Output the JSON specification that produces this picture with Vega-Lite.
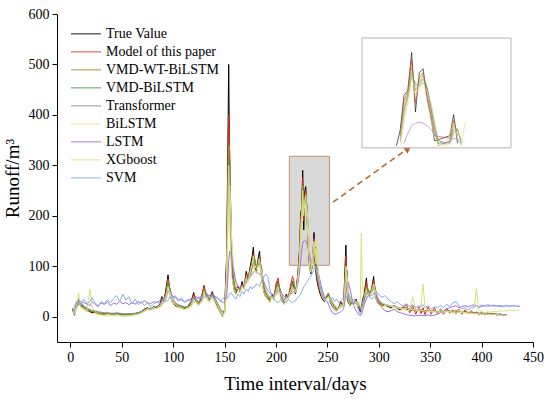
{
"$schema": "https://vega.github.io/schema/vega-lite/v6.json",
"width": 476, "height": 328,
"autosize": {"type": "none"},
"padding": {"left": 57, "top": 14, "right": 17, "bottom": 57},
"background": "white",
"config": {"view": {"stroke": null}, "font": "Liberation Serif"},
"datasets": {"runoff": [
{"d":2,"a":15,"b":14,"c":12,"e":13,"f":16,"g":10,"h":18,"i":12,"j":10},
{"d":4,"a":3,"b":5,"c":6,"e":4,"f":8,"g":5,"h":12,"i":8,"j":20},
{"d":6,"a":28,"b":25,"c":22,"e":20,"f":18,"g":15,"h":25,"i":20,"j":30},
{"d":8,"a":35,"b":32,"c":30,"e":28,"f":25,"g":22,"h":35,"i":48,"j":28},
{"d":10,"a":22,"b":24,"c":26,"e":25,"f":28,"g":20,"h":30,"i":18,"j":22},
{"d":13,"a":18,"b":16,"c":18,"e":20,"f":22,"g":16,"h":28,"i":14,"j":35},
{"d":16,"a":12,"b":14,"c":15,"e":16,"f":18,"g":12,"h":25,"i":10,"j":26},
{"d":19,"a":10,"b":12,"c":12,"e":12,"f":14,"g":8,"h":22,"i":55,"j":30},
{"d":21,"a":8,"b":10,"c":10,"e":11,"f":13,"g":6,"h":30,"i":20,"j":38},
{"d":24,"a":10,"b":9,"c":11,"e":10,"f":12,"g":6,"h":25,"i":10,"j":28},
{"d":27,"a":5,"b":7,"c":8,"e":8,"f":10,"g":4,"h":20,"i":6,"j":22},
{"d":30,"a":6,"b":5,"c":6,"e":7,"f":9,"g":3,"h":28,"i":4,"j":30},
{"d":33,"a":4,"b":6,"c":5,"e":6,"f":8,"g":2,"h":24,"i":3,"j":26},
{"d":36,"a":7,"b":6,"c":6,"e":5,"f":8,"g":3,"h":30,"i":5,"j":34},
{"d":39,"a":5,"b":7,"c":6,"e":6,"f":7,"g":2,"h":22,"i":4,"j":28},
{"d":42,"a":4,"b":5,"c":5,"e":6,"f":7,"g":2,"h":27,"i":3,"j":36},
{"d":45,"a":6,"b":5,"c":6,"e":5,"f":8,"g":3,"h":25,"i":4,"j":42},
{"d":48,"a":5,"b":6,"c":5,"e":6,"f":7,"g":2,"h":30,"i":3,"j":30},
{"d":51,"a":3,"b":5,"c":5,"e":4,"f":6,"g":1,"h":26,"i":2,"j":45},
{"d":54,"a":4,"b":4,"c":4,"e":5,"f":6,"g":1,"h":28,"i":2,"j":33},
{"d":57,"a":4,"b":5,"c":5,"e":5,"f":6,"g":1,"h":24,"i":2,"j":40},
{"d":60,"a":5,"b":4,"c":5,"e":5,"f":6,"g":2,"h":28,"i":3,"j":26},
{"d":63,"a":6,"b":6,"c":6,"e":6,"f":7,"g":3,"h":25,"i":4,"j":35},
{"d":66,"a":8,"b":7,"c":7,"e":8,"f":8,"g":4,"h":30,"i":5,"j":24},
{"d":69,"a":10,"b":9,"c":9,"e":9,"f":10,"g":6,"h":27,"i":8,"j":30},
{"d":72,"a":15,"b":13,"c":12,"e":12,"f":13,"g":10,"h":32,"i":12,"j":22},
{"d":75,"a":18,"b":17,"c":16,"e":15,"f":16,"g":14,"h":28,"i":16,"j":28},
{"d":78,"a":14,"b":16,"c":15,"e":16,"f":17,"g":13,"h":26,"i":14,"j":20},
{"d":81,"a":20,"b":18,"c":18,"e":17,"f":18,"g":15,"h":30,"i":18,"j":25},
{"d":84,"a":18,"b":20,"c":19,"e":19,"f":20,"g":16,"h":28,"i":16,"j":30},
{"d":87,"a":25,"b":22,"c":21,"e":20,"f":22,"g":18,"h":32,"i":22,"j":26},
{"d":89,"a":40,"b":35,"c":30,"e":28,"f":26,"g":22,"h":35,"i":30,"j":28},
{"d":91,"a":30,"b":32,"c":34,"e":32,"f":30,"g":26,"h":38,"i":28,"j":35},
{"d":93,"a":55,"b":50,"c":45,"e":40,"f":35,"g":30,"h":40,"i":40,"j":30},
{"d":95,"a":83,"b":75,"c":70,"e":65,"f":60,"g":50,"h":50,"i":60,"j":32},
{"d":97,"a":45,"b":50,"c":55,"e":55,"f":52,"g":48,"h":50,"i":45,"j":40},
{"d":99,"a":30,"b":32,"c":35,"e":36,"f":38,"g":35,"h":42,"i":30,"j":35},
{"d":102,"a":22,"b":24,"c":26,"e":27,"f":28,"g":25,"h":38,"i":20,"j":42},
{"d":105,"a":20,"b":22,"c":22,"e":23,"f":24,"g":20,"h":35,"i":18,"j":30},
{"d":108,"a":18,"b":20,"c":20,"e":20,"f":22,"g":18,"h":33,"i":16,"j":38},
{"d":111,"a":16,"b":18,"c":18,"e":18,"f":20,"g":15,"h":30,"i":14,"j":28},
{"d":114,"a":20,"b":19,"c":18,"e":18,"f":20,"g":15,"h":32,"i":18,"j":34},
{"d":117,"a":28,"b":25,"c":22,"e":22,"f":22,"g":18,"h":35,"i":22,"j":30},
{"d":120,"a":48,"b":45,"c":40,"e":36,"f":32,"g":28,"h":38,"i":35,"j":36},
{"d":122,"a":30,"b":34,"c":36,"e":35,"f":34,"g":30,"h":40,"i":28,"j":32},
{"d":125,"a":25,"b":27,"c":28,"e":28,"f":28,"g":25,"h":36,"i":22,"j":40},
{"d":128,"a":40,"b":45,"c":38,"e":35,"f":32,"g":28,"h":38,"i":30,"j":35},
{"d":130,"a":62,"b":60,"c":55,"e":50,"f":45,"g":40,"h":45,"i":50,"j":38},
{"d":132,"a":40,"b":45,"c":48,"e":46,"f":44,"g":40,"h":45,"i":35,"j":42},
{"d":135,"a":32,"b":35,"c":36,"e":36,"f":36,"g":32,"h":42,"i":28,"j":36},
{"d":138,"a":50,"b":48,"c":44,"e":42,"f":40,"g":36,"h":44,"i":40,"j":40},
{"d":140,"a":35,"b":38,"c":40,"e":40,"f":38,"g":35,"h":42,"i":30,"j":34},
{"d":143,"a":20,"b":22,"c":25,"e":26,"f":28,"g":24,"h":38,"i":18,"j":38},
{"d":146,"a":8,"b":10,"c":12,"e":14,"f":16,"g":12,"h":32,"i":8,"j":30},
{"d":148,"a":1,"b":3,"c":5,"e":6,"f":10,"g":4,"h":28,"i":2,"j":35},
{"d":150,"a":15,"b":10,"c":8,"e":8,"f":10,"g":6,"h":30,"i":10,"j":40},
{"d":152,"a":120,"b":100,"c":80,"e":70,"f":60,"g":50,"h":40,"i":90,"j":35},
{"d":153,"a":300,"b":260,"c":230,"e":200,"f":180,"g":150,"h":70,"i":200,"j":38},
{"d":154,"a":500,"b":400,"c":340,"e":300,"f":260,"g":220,"h":110,"i":300,"j":42},
{"d":155,"a":280,"b":320,"c":330,"e":310,"f":290,"g":260,"h":130,"i":200,"j":45},
{"d":156,"a":150,"b":180,"c":200,"e":210,"f":220,"g":210,"h":125,"i":120,"j":48},
{"d":157,"a":90,"b":100,"c":120,"e":130,"f":140,"g":150,"h":110,"i":80,"j":45},
{"d":159,"a":55,"b":60,"c":70,"e":75,"f":85,"g":90,"h":90,"i":55,"j":40},
{"d":161,"a":45,"b":48,"c":50,"e":52,"f":58,"g":60,"h":70,"i":45,"j":35},
{"d":163,"a":60,"b":58,"c":55,"e":54,"f":55,"g":55,"h":60,"i":50,"j":45},
{"d":165,"a":50,"b":55,"c":55,"e":55,"f":55,"g":52,"h":58,"i":48,"j":40},
{"d":167,"a":70,"b":65,"c":62,"e":60,"f":58,"g":55,"h":60,"i":60,"j":50},
{"d":169,"a":55,"b":60,"c":62,"e":62,"f":62,"g":58,"h":65,"i":55,"j":45},
{"d":171,"a":90,"b":85,"c":78,"e":72,"f":68,"g":62,"h":68,"i":75,"j":55},
{"d":173,"a":75,"b":80,"c":80,"e":78,"f":75,"g":70,"h":75,"i":70,"j":50},
{"d":175,"a":100,"b":95,"c":90,"e":85,"f":82,"g":78,"h":80,"i":90,"j":60},
{"d":177,"a":122,"b":110,"c":105,"e":100,"f":95,"g":90,"h":85,"i":105,"j":55},
{"d":178,"a":138,"b":125,"c":118,"e":110,"f":105,"g":98,"h":88,"i":120,"j":60},
{"d":179,"a":100,"b":115,"c":118,"e":115,"f":110,"g":102,"h":90,"i":95,"j":58},
{"d":181,"a":90,"b":95,"c":100,"e":100,"f":100,"g":95,"h":88,"i":85,"j":65},
{"d":183,"a":120,"b":110,"c":105,"e":102,"f":100,"g":95,"h":86,"i":110,"j":62},
{"d":184,"a":130,"b":119,"c":112,"e":108,"f":104,"g":98,"h":85,"i":115,"j":60},
{"d":186,"a":80,"b":90,"c":95,"e":96,"f":95,"g":92,"h":80,"i":75,"j":70},
{"d":188,"a":50,"b":55,"c":62,"e":65,"f":70,"g":72,"h":70,"i":50,"j":78},
{"d":190,"a":40,"b":42,"c":45,"e":48,"f":52,"g":55,"h":60,"i":40,"j":85},
{"d":192,"a":35,"b":38,"c":40,"e":42,"f":45,"g":46,"h":52,"i":35,"j":80},
{"d":194,"a":30,"b":32,"c":34,"e":35,"f":38,"g":40,"h":48,"i":28,"j":55},
{"d":196,"a":45,"b":42,"c":40,"e":38,"f":38,"g":36,"h":45,"i":40,"j":40},
{"d":198,"a":35,"b":38,"c":40,"e":40,"f":40,"g":38,"h":44,"i":32,"j":35},
{"d":200,"a":60,"b":65,"c":55,"e":50,"f":46,"g":42,"h":46,"i":50,"j":30},
{"d":202,"a":70,"b":77,"c":68,"e":62,"f":56,"g":50,"h":50,"i":60,"j":28},
{"d":204,"a":45,"b":50,"c":55,"e":55,"f":54,"g":50,"h":50,"i":42,"j":32},
{"d":206,"a":30,"b":34,"c":38,"e":40,"f":42,"g":40,"h":45,"i":30,"j":40},
{"d":208,"a":25,"b":28,"c":30,"e":32,"f":34,"g":32,"h":40,"i":25,"j":30},
{"d":210,"a":45,"b":42,"c":38,"e":36,"f":36,"g":34,"h":40,"i":38,"j":28},
{"d":212,"a":35,"b":40,"c":42,"e":40,"f":40,"g":38,"h":42,"i":35,"j":35},
{"d":214,"a":55,"b":60,"c":52,"e":48,"f":45,"g":42,"h":44,"i":50,"j":30},
{"d":216,"a":70,"b":80,"c":68,"e":62,"f":56,"g":50,"h":48,"i":60,"j":28},
{"d":217,"a":60,"b":75,"c":70,"e":65,"f":60,"g":55,"h":50,"i":55,"j":30},
{"d":219,"a":45,"b":50,"c":55,"e":55,"f":55,"g":52,"h":52,"i":48,"j":32},
{"d":220,"a":60,"b":58,"c":58,"e":58,"f":58,"g":55,"h":55,"i":55,"j":35},
{"d":221,"a":80,"b":78,"c":72,"e":70,"f":66,"g":62,"h":62,"i":70,"j":38},
{"d":222,"a":105,"b":100,"c":95,"e":90,"f":85,"g":80,"h":75,"i":90,"j":40},
{"d":223,"a":136,"b":130,"c":125,"e":120,"f":112,"g":105,"h":90,"i":115,"j":42},
{"d":224,"a":205,"b":195,"c":185,"e":175,"f":165,"g":150,"h":110,"i":170,"j":45},
{"d":225,"a":215,"b":212,"c":208,"e":205,"f":200,"g":190,"h":130,"i":200,"j":50},
{"d":226,"a":290,"b":275,"c":260,"e":250,"f":240,"g":225,"h":145,"i":250,"j":55},
{"d":227,"a":172,"b":190,"c":215,"e":225,"f":230,"g":228,"h":150,"i":200,"j":60},
{"d":228,"a":250,"b":240,"c":230,"e":225,"f":222,"g":215,"h":152,"i":230,"j":62},
{"d":229,"a":258,"b":250,"c":245,"e":238,"f":230,"g":222,"h":150,"i":240,"j":65},
{"d":230,"a":200,"b":210,"c":220,"e":222,"f":220,"g":215,"h":145,"i":195,"j":68},
{"d":231,"a":163,"b":170,"c":180,"e":185,"f":190,"g":190,"h":138,"i":160,"j":72},
{"d":232,"a":115,"b":125,"c":135,"e":140,"f":148,"g":155,"h":128,"i":120,"j":75},
{"d":233,"a":95,"b":100,"c":105,"e":110,"f":115,"g":122,"h":118,"i":95,"j":78},
{"d":234,"a":85,"b":90,"c":92,"e":95,"f":100,"g":105,"h":110,"i":88,"j":80},
{"d":235,"a":100,"b":98,"c":95,"e":95,"f":98,"g":100,"h":110,"i":105,"j":85},
{"d":236,"a":125,"b":120,"c":115,"e":112,"f":110,"g":108,"h":115,"i":130,"j":90},
{"d":237,"a":167,"b":155,"c":145,"e":138,"f":132,"g":125,"h":120,"i":150,"j":95},
{"d":238,"a":110,"b":125,"c":135,"e":138,"f":138,"g":135,"h":118,"i":120,"j":100},
{"d":239,"a":85,"b":90,"c":100,"e":108,"f":115,"g":120,"h":110,"i":105,"j":95},
{"d":240,"a":70,"b":78,"c":85,"e":92,"f":100,"g":110,"h":100,"i":152,"j":85},
{"d":241,"a":60,"b":65,"c":72,"e":78,"f":85,"g":90,"h":90,"i":90,"j":75},
{"d":243,"a":45,"b":50,"c":55,"e":58,"f":62,"g":66,"h":70,"i":55,"j":60},
{"d":245,"a":35,"b":38,"c":42,"e":45,"f":48,"g":50,"h":52,"i":40,"j":45},
{"d":247,"a":30,"b":32,"c":35,"e":36,"f":38,"g":40,"h":40,"i":32,"j":35},
{"d":249,"a":40,"b":38,"c":36,"e":36,"f":36,"g":36,"h":32,"i":35,"j":30},
{"d":251,"a":45,"b":47,"c":45,"e":42,"f":40,"g":38,"h":25,"i":40,"j":28},
{"d":253,"a":28,"b":32,"c":36,"e":38,"f":38,"g":36,"h":15,"i":30,"j":32},
{"d":255,"a":20,"b":22,"c":25,"e":27,"f":29,"g":30,"h":8,"i":22,"j":38},
{"d":257,"a":15,"b":18,"c":20,"e":21,"f":22,"g":24,"h":5,"i":16,"j":30},
{"d":259,"a":12,"b":14,"c":15,"e":16,"f":18,"g":18,"h":6,"i":12,"j":35},
{"d":261,"a":18,"b":16,"c":16,"e":16,"f":17,"g":16,"h":8,"i":15,"j":28},
{"d":263,"a":30,"b":28,"c":24,"e":22,"f":20,"g":18,"h":10,"i":25,"j":32},
{"d":265,"a":20,"b":25,"c":26,"e":25,"f":24,"g":22,"h":14,"i":20,"j":36},
{"d":266,"a":35,"b":30,"c":28,"e":27,"f":26,"g":24,"h":18,"i":30,"j":34},
{"d":267,"a":90,"b":75,"c":60,"e":52,"f":45,"g":38,"h":30,"i":60,"j":32},
{"d":268,"a":142,"b":120,"c":100,"e":88,"f":75,"g":60,"h":45,"i":100,"j":35},
{"d":269,"a":60,"b":80,"c":90,"e":92,"f":90,"g":80,"h":65,"i":70,"j":40},
{"d":270,"a":30,"b":40,"c":48,"e":52,"f":56,"g":58,"h":70,"i":35,"j":45},
{"d":272,"a":22,"b":25,"c":28,"e":30,"f":33,"g":35,"h":55,"i":22,"j":40},
{"d":274,"a":30,"b":28,"c":27,"e":27,"f":28,"g":28,"h":35,"i":25,"j":30},
{"d":276,"a":25,"b":27,"c":28,"e":28,"f":28,"g":27,"h":20,"i":22,"j":35},
{"d":278,"a":35,"b":33,"c":30,"e":29,"f":28,"g":27,"h":12,"i":30,"j":28},
{"d":280,"a":20,"b":24,"c":26,"e":27,"f":28,"g":28,"h":5,"i":20,"j":15},
{"d":282,"a":10,"b":12,"c":15,"e":17,"f":20,"g":22,"h":2,"i":30,"j":5},
{"d":283,"a":15,"b":14,"c":14,"e":15,"f":16,"g":18,"h":4,"i":166,"j":10},
{"d":284,"a":30,"b":26,"c":22,"e":20,"f":18,"g":17,"h":10,"i":60,"j":25},
{"d":286,"a":50,"b":45,"c":38,"e":34,"f":30,"g":28,"h":25,"i":40,"j":40},
{"d":288,"a":77,"b":70,"c":60,"e":52,"f":46,"g":40,"h":35,"i":55,"j":45},
{"d":289,"a":45,"b":55,"c":58,"e":55,"f":50,"g":45,"h":40,"i":45,"j":48},
{"d":291,"a":40,"b":45,"c":48,"e":48,"f":48,"g":45,"h":42,"i":38,"j":40},
{"d":293,"a":55,"b":55,"c":52,"e":50,"f":48,"g":46,"h":42,"i":50,"j":35},
{"d":295,"a":80,"b":72,"c":65,"e":60,"f":56,"g":52,"h":45,"i":65,"j":38},
{"d":296,"a":50,"b":60,"c":62,"e":60,"f":58,"g":54,"h":48,"i":50,"j":42},
{"d":298,"a":30,"b":35,"c":40,"e":42,"f":44,"g":44,"h":42,"i":30,"j":48},
{"d":300,"a":25,"b":28,"c":30,"e":32,"f":34,"g":35,"h":30,"i":24,"j":45},
{"d":303,"a":20,"b":22,"c":24,"e":25,"f":27,"g":28,"h":18,"i":20,"j":38},
{"d":306,"a":25,"b":24,"c":24,"e":24,"f":25,"g":25,"h":12,"i":22,"j":42},
{"d":309,"a":20,"b":22,"c":22,"e":22,"f":23,"g":23,"h":10,"i":18,"j":35},
{"d":312,"a":18,"b":20,"c":20,"e":20,"f":21,"g":20,"h":12,"i":16,"j":30},
{"d":315,"a":22,"b":21,"c":20,"e":20,"f":21,"g":20,"h":15,"i":20,"j":26},
{"d":318,"a":16,"b":18,"c":18,"e":18,"f":19,"g":18,"h":10,"i":14,"j":30},
{"d":321,"a":14,"b":16,"c":16,"e":16,"f":17,"g":16,"h":8,"i":12,"j":24},
{"d":324,"a":18,"b":20,"c":17,"e":17,"f":17,"g":16,"h":6,"i":15,"j":22},
{"d":327,"a":15,"b":24,"c":18,"e":17,"f":17,"g":16,"h":4,"i":13,"j":26},
{"d":330,"a":12,"b":8,"c":14,"e":15,"f":16,"g":15,"h":3,"i":12,"j":20},
{"d":333,"a":14,"b":22,"c":15,"e":15,"f":15,"g":14,"h":2,"i":40,"j":24},
{"d":336,"a":12,"b":5,"c":13,"e":14,"f":14,"g":13,"h":2,"i":14,"j":18},
{"d":339,"a":13,"b":20,"c":14,"e":14,"f":14,"g":13,"h":3,"i":15,"j":22},
{"d":341,"a":11,"b":6,"c":12,"e":13,"f":13,"g":12,"h":2,"i":20,"j":20},
{"d":343,"a":12,"b":18,"c":13,"e":13,"f":13,"g":12,"h":3,"i":65,"j":24},
{"d":345,"a":10,"b":4,"c":11,"e":12,"f":12,"g":11,"h":2,"i":20,"j":18},
{"d":348,"a":12,"b":20,"c":12,"e":12,"f":12,"g":11,"h":4,"i":12,"j":22},
{"d":351,"a":10,"b":5,"c":11,"e":11,"f":11,"g":10,"h":2,"i":10,"j":16},
{"d":354,"a":11,"b":18,"c":11,"e":11,"f":11,"g":10,"h":3,"i":11,"j":20},
{"d":357,"a":9,"b":6,"c":10,"e":10,"f":10,"g":9,"h":5,"i":9,"j":18},
{"d":360,"a":12,"b":16,"c":11,"e":11,"f":11,"g":10,"h":8,"i":14,"j":22},
{"d":363,"a":10,"b":5,"c":10,"e":10,"f":10,"g":9,"h":12,"i":10,"j":18},
{"d":366,"a":13,"b":17,"c":11,"e":11,"f":11,"g":10,"h":15,"i":12,"j":25},
{"d":369,"a":11,"b":7,"c":11,"e":11,"f":11,"g":10,"h":18,"i":10,"j":20},
{"d":372,"a":9,"b":14,"c":10,"e":10,"f":10,"g":9,"h":20,"i":8,"j":28},
{"d":375,"a":12,"b":6,"c":10,"e":10,"f":10,"g":9,"h":22,"i":14,"j":30},
{"d":378,"a":10,"b":15,"c":10,"e":10,"f":10,"g":9,"h":18,"i":12,"j":22},
{"d":381,"a":8,"b":5,"c":9,"e":9,"f":9,"g":8,"h":20,"i":10,"j":15},
{"d":384,"a":10,"b":14,"c":9,"e":9,"f":9,"g":8,"h":22,"i":8,"j":18},
{"d":387,"a":8,"b":6,"c":8,"e":8,"f":8,"g":7,"h":20,"i":10,"j":14},
{"d":390,"a":9,"b":12,"c":8,"e":8,"f":8,"g":7,"h":22,"i":12,"j":18},
{"d":393,"a":7,"b":5,"c":7,"e":7,"f":7,"g":6,"h":24,"i":20,"j":20},
{"d":395,"a":8,"b":10,"c":7,"e":7,"f":7,"g":6,"h":22,"i":57,"j":22},
{"d":397,"a":6,"b":4,"c":7,"e":7,"f":7,"g":6,"h":20,"i":15,"j":18},
{"d":400,"a":7,"b":9,"c":6,"e":6,"f":7,"g":5,"h":23,"i":10,"j":20},
{"d":403,"a":6,"b":4,"c":6,"e":6,"f":6,"g":5,"h":21,"i":8,"j":22},
{"d":406,"a":5,"b":8,"c":6,"e":6,"f":6,"g":5,"h":24,"i":10,"j":20},
{"d":409,"a":6,"b":4,"c":5,"e":5,"f":6,"g":4,"h":22,"i":9,"j":22},
{"d":412,"a":5,"b":7,"c":5,"e":5,"f":5,"g":4,"h":23,"i":11,"j":21},
{"d":415,"a":4,"b":3,"c":5,"e":5,"f":5,"g":4,"h":21,"i":10,"j":22},
{"d":418,"a":5,"b":6,"c":4,"e":4,"f":5,"g":3,"h":22,"i":12,"j":20},
{"d":421,"a":3,"b":2,"c":4,"e":4,"f":4,"g":3,"h":21,"i":11,"j":21},
{"d":424,"a":4,"b":4,"c":4,"e":4,"f":4,"g":3,"h":22,"i":12,"j":22},
{"d":427,"h":21,"i":13,"j":21},
{"d":430,"h":22,"i":12,"j":22},
{"d":433,"h":21,"i":13,"j":21},
{"d":437,"h":21,"i":13,"j":21}
]},
"layer": [
{"layer": [
 {"data": {"values": [{}]},
  "mark": {"type": "rect", "fill": "#d9d9d9", "stroke": "#c8906a", "strokeWidth": 1},
  "encoding": {
   "x": {"datum": 213, "type": "quantitative", "scale": {"domain": [-13, 450], "nice": false, "zero": false},
    "axis": {"values": [0,25,50,75,100,125,150,175,200,225,250,275,300,325,350,375,400,425,450], "labelExpr": "datum.value % 50 === 0 ? datum.label : ''", "tickSize": {"condition": {"test": "datum.value % 50 === 0", "value": 5}, "value": 3}, "grid": false, "title": "Time interval/days", "titleFont": "Liberation Serif", "titleFontSize": 19, "titleFontWeight": "normal", "titleColor": "black", "titlePadding": 10, "labelFont": "Liberation Serif", "labelFontSize": 14, "labelColor": "black", "labelPadding": 3, "tickColor": "black", "domainColor": "black", "labelFlush": false, "labelOverlap": false}},
   "x2": {"datum": 252},
   "y": {"datum": 102, "type": "quantitative", "scale": {"domain": [-50, 600], "nice": false, "zero": false},
    "axis": {"values": [0,50,100,150,200,250,300,350,400,450,500,550,600], "labelExpr": "datum.value % 100 === 0 ? datum.label : ''", "tickSize": {"condition": {"test": "datum.value % 100 === 0", "value": 5}, "value": 3}, "grid": false, "title": "Runoff/m³", "titleFont": "Liberation Serif", "titleFontSize": 19, "titleFontWeight": "normal", "titleColor": "black", "titlePadding": 6, "labelFont": "Liberation Serif", "labelFontSize": 14, "labelColor": "black", "labelPadding": 3, "tickColor": "black", "domainColor": "black", "labelFlush": false, "labelOverlap": false}},
   "y2": {"datum": 318}
  }},
 {"data": {"name": "runoff"},
  "transform": [{"fold": ["a","b","c","e","f","g","h","i","j"], "as": ["k","v"]}],
  "mark": {"type": "line", "strokeWidth": 1},
  "encoding": {
   "x": {"field": "d", "type": "quantitative", "scale": {"domain": [-13, 450], "nice": false, "zero": false},
    "axis": {"values": [0,25,50,75,100,125,150,175,200,225,250,275,300,325,350,375,400,425,450], "labelExpr": "datum.value % 50 === 0 ? datum.label : ''", "tickSize": {"condition": {"test": "datum.value % 50 === 0", "value": 5}, "value": 3}, "grid": false, "title": "Time interval/days", "titleFont": "Liberation Serif", "titleFontSize": 19, "titleFontWeight": "normal", "titleColor": "black", "titlePadding": 10, "labelFont": "Liberation Serif", "labelFontSize": 14, "labelColor": "black", "labelPadding": 3, "tickColor": "black", "domainColor": "black", "labelFlush": false, "labelOverlap": false}},
   "y": {"field": "v", "type": "quantitative", "scale": {"domain": [-50, 600], "nice": false, "zero": false},
    "axis": {"values": [0,50,100,150,200,250,300,350,400,450,500,550,600], "labelExpr": "datum.value % 100 === 0 ? datum.label : ''", "tickSize": {"condition": {"test": "datum.value % 100 === 0", "value": 5}, "value": 3}, "grid": false, "title": "Runoff/m³", "titleFont": "Liberation Serif", "titleFontSize": 19, "titleFontWeight": "normal", "titleColor": "black", "titlePadding": 6, "labelFont": "Liberation Serif", "labelFontSize": 14, "labelColor": "black", "labelPadding": 3, "tickColor": "black", "domainColor": "black", "labelFlush": false, "labelOverlap": false}},
   "color": {"field": "k", "type": "nominal",
    "scale": {"domain": ["a","b","c","e","f","g","h","i","j"], "range": ["#000000","#e0301e","#a88a30","#3c9a3c","#8c8c8c","#f0dc96","#a070e0","#d8e07a","#86aee6"]},
    "legend": {"title": null, "orient": "none", "legendX": 13, "legendY": 11, "symbolType": "stroke", "symbolSize": 900, "symbolStrokeWidth": 1.5, "labelFont": "Liberation Serif", "labelFontSize": 14, "labelColor": "black", "clipHeight": 17.6, "rowPadding": 0, "labelExpr": "{'a':'True Value','b':'Model of this paper','c':'VMD-WT-BiLSTM','e':'VMD-BiLSTM','f':'Transformer','g':'BiLSTM','h':'LSTM','i':'XGboost','j':'SVM'}[datum.label]"}}
  }},
 {"data": {"values": [{}]},
  "mark": {"type": "rule", "stroke": "#b8662c", "strokeWidth": 1.5, "strokeDash": [6, 4]},
  "encoding": {"x": {"datum": 255.5, "type": "quantitative"}, "y": {"datum": 227, "type": "quantitative"}, "x2": {"datum": 324.5}, "y2": {"datum": 328}}},
 {"data": {"values": [{}]},
  "mark": {"type": "point", "shape": "triangle-up", "filled": true, "fill": "#b8662c", "stroke": null, "size": 70, "angle": 54, "opacity": 1},
  "encoding": {"x": {"datum": 328.5, "type": "quantitative"}, "y": {"datum": 334, "type": "quantitative"}}}
]},
{"layer": [
 {"data": {"values": [{}]},
  "mark": {"type": "rect", "fill": "white", "stroke": "#b4b4b4", "strokeWidth": 1},
  "encoding": {
   "x": {"datum": 213, "type": "quantitative", "scale": {"domain": [133.17, 257.76], "nice": false, "zero": false}, "axis": null},
   "x2": {"datum": 252},
   "y": {"datum": 101, "type": "quantitative", "scale": {"domain": [-283.7, 366.3], "nice": false, "zero": false}, "axis": null},
   "y2": {"datum": 318.7}
  }},
 {"data": {"name": "runoff"},
  "transform": [{"fold": ["a","b","c","e","f","g","h","i","j"], "as": ["k","v"]}, {"filter": "datum.d >= 213 && datum.d <= 252 && datum.v >= 101"}],
  "mark": {"type": "line", "strokeWidth": 1, "opacity": 0.6},
  "encoding": {
   "x": {"field": "d", "type": "quantitative", "scale": {"domain": [133.17, 257.76], "nice": false, "zero": false}, "axis": null},
   "y": {"field": "v", "type": "quantitative", "scale": {"domain": [-283.7, 366.3], "nice": false, "zero": false}, "axis": null},
   "color": {"field": "k", "type": "nominal",
    "scale": {"domain": ["a","b","c","e","f","g","h","i","j"], "range": ["#000000","#e0301e","#a88a30","#3c9a3c","#8c8c8c","#f0dc96","#a070e0","#d8e07a","#86aee6"]},
    "legend": {"title": null, "orient": "none", "legendX": 13, "legendY": 11, "symbolType": "stroke", "symbolSize": 900, "symbolStrokeWidth": 1.5, "labelFont": "Liberation Serif", "labelFontSize": 14, "labelColor": "black", "clipHeight": 17.6, "rowPadding": 0, "labelExpr": "{'a':'True Value','b':'Model of this paper','c':'VMD-WT-BiLSTM','e':'VMD-BiLSTM','f':'Transformer','g':'BiLSTM','h':'LSTM','i':'XGboost','j':'SVM'}[datum.label]"}}
  }}
]}
],
"resolve": {"scale": {"x": "independent", "y": "independent"}}
}
